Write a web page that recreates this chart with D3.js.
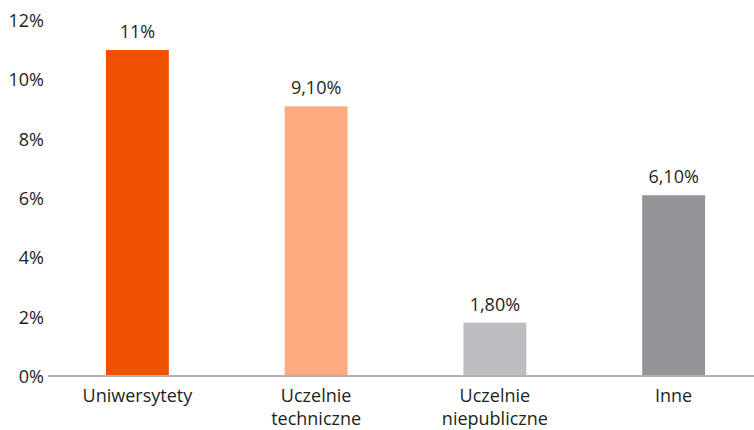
<!DOCTYPE html>
<html><head><meta charset="utf-8">
<script src="https://cdn.jsdelivr.net/npm/d3@7"></script>
<style>body{margin:0;background:#fff}svg text{font-family:"Open Sans",sans-serif;fill:#231f20}</style>
</head><body><svg id="c" width="754" height="430"></svg>
<script>
const categories = [["Uniwersytety"], ["Uczelnie", "techniczne"], ["Uczelnie", "niepubliczne"], ["Inne"]];
const values = [11, 9.1, 1.8, 6.1];
const valueLabels = ["11%", "9,10%", "1,80%", "6,10%"];
const colors = ["#ee5100", "#fdaa80", "#bcbdc0", "#939598"];
const yTicks = [0, 2, 4, 6, 8, 10, 12];

const svg = d3.select("#c");
const x = d3.scaleBand().domain(d3.range(values.length)).range([48, 763]).paddingInner(0.648).paddingOuter(0.324);
const y = d3.scaleLinear().domain([0, 12]).range([376, 20.4]);

const yAxis = svg.append("g").attr("transform", "translate(48,0)")
  .call(d3.axisLeft(y).tickValues(yTicks).tickFormat(d => d + "%").tickSize(0).tickPadding(4));
yAxis.select(".domain").remove();
yAxis.selectAll("text").style("font-size", "18px").attr("dy", "0.35em");

svg.selectAll("rect.bar").data(values).join("rect").attr("class", "bar")
  .attr("x", (d, i) => x(i)).attr("width", x.bandwidth())
  .attr("y", d => y(d)).attr("height", d => y(0) - y(d))
  .attr("fill", (d, i) => colors[i]);

svg.append("line").attr("x1", 48).attr("x2", 754).attr("y1", y(0)).attr("y2", y(0))
  .attr("stroke", "#b3b3b3").attr("stroke-width", 2);

svg.selectAll("text.val").data(values).join("text").attr("class", "val")
  .attr("x", (d, i) => x(i) + x.bandwidth() / 2).attr("y", d => y(d) - 12)
  .attr("text-anchor", "middle").style("font-size", "18px").text((d, i) => valueLabels[i]);

const cat = svg.selectAll("text.cat").data(categories).join("text").attr("class", "cat")
  .attr("x", (d, i) => x(i) + x.bandwidth() / 2).attr("y", 402)
  .attr("text-anchor", "middle").style("font-size", "18px");
cat.selectAll("tspan").data(d => d).join("tspan")
  .attr("x", function () { return d3.select(this.parentNode).attr("x"); })
  .attr("dy", (d, j) => j === 0 ? 0 : 23).text(d => d);
</script></body></html>
